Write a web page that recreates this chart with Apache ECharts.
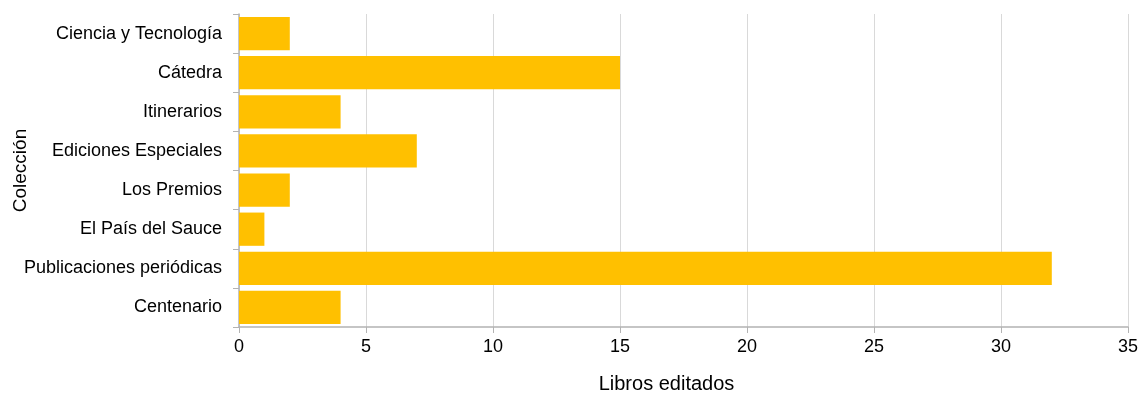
<!DOCTYPE html>
<html>
<head>
<meta charset="utf-8">
<script src="https://cdn.jsdelivr.net/npm/echarts@6/dist/echarts.min.js"></script>
<style>
  html, body { margin: 0; padding: 0; background: #fff; }
  #main { width: 1140px; height: 395px; }
</style>
</head>
<body>
<div id="main"></div>
<script>
// colecciones, de arriba hacia abajo
const colecciones = [
    'Ciencia y Tecnología',
    'Cátedra',
    'Itinerarios',
    'Ediciones Especiales',
    'Los Premios',
    'El País del Sauce',
    'Publicaciones periódicas',
    'Centenario'
]
const librosEditados = [2, 15, 4, 7, 2, 1, 32, 4]

const font = 'Liberation Sans, Arial, sans-serif'

var myChart = echarts.init(document.getElementById('main'))
myChart.setOption({
    animation: false,
    grid: {
        left: 239,
        right: 12,
        top: 14,
        bottom: 68,
        containLabel: false,
        outerBoundsMode: 'none'
    },
    xAxis: {
        type: 'value',
        min: 0,
        max: 35,
        interval: 5,
        name: 'Libros editados',
        nameLocation: 'middle',
        nameGap: 47,
        nameMoveOverlap: false,
        nameTextStyle: { color: '#000', fontSize: 20, fontFamily: font, padding: [0, 34, 0, 0] },
        axisLine: { show: true, lineStyle: { color: '#b3b3b3', width: 1.5 } },
        axisTick: { show: true, length: 6, lineStyle: { color: '#b3b3b3' } },
        axisLabel: { color: '#000', fontSize: 18, fontFamily: font, margin: 11 },
        splitLine: { show: true, lineStyle: { color: '#d9d9d9' } }
    },
    yAxis: {
        type: 'category',
        inverse: true,
        data: colecciones,
        name: 'Colección',
        nameLocation: 'middle',
        nameGap: 209,
        nameRotate: 90,
        nameMoveOverlap: false,
        nameTextStyle: { color: '#000', fontSize: 19, fontFamily: font },
        axisLine: { show: true, lineStyle: { color: '#b3b3b3', width: 1.5 } },
        axisTick: { show: true, length: 6, lineStyle: { color: '#b3b3b3' } },
        axisLabel: { color: '#000', fontSize: 18, fontFamily: font, margin: 17 },
        splitLine: { show: false }
    },
    series: [
        {
            type: 'bar',
            data: librosEditados,
            barCategoryGap: '15%',
            itemStyle: { color: '#FFC000' }
        }
    ]
})
</script>
</body>
</html>
